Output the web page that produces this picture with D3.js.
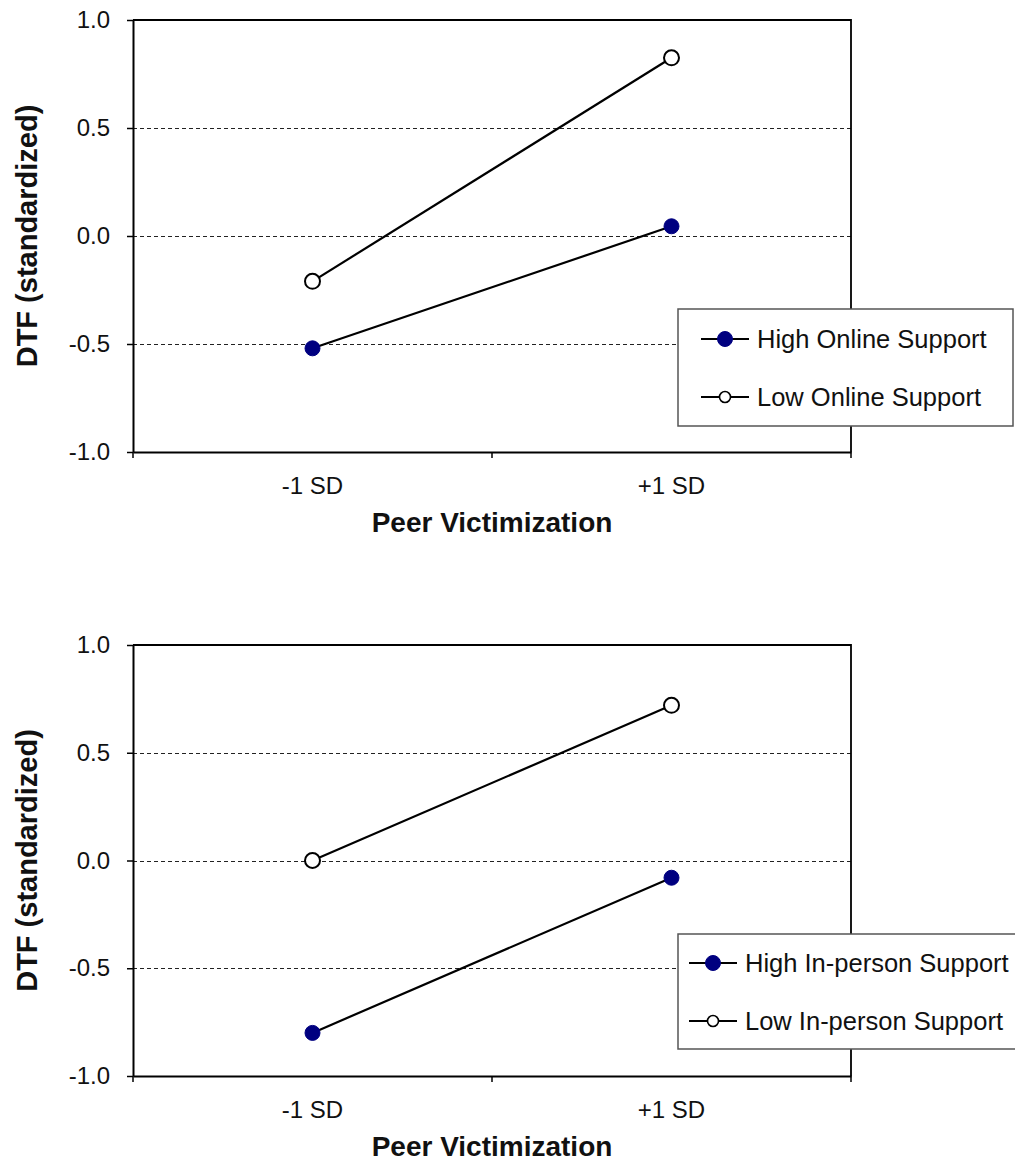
<!DOCTYPE html>
<html><head><meta charset="utf-8">
<script src="https://cdn.jsdelivr.net/npm/d3@7"></script>
<style>body{margin:0;background:#fff}svg{display:block}text{font-family:"Liberation Sans",Arial,sans-serif}</style>
</head><body>
<svg id="c" width="1015" height="1165"></svg>
<script>
const categories = ["-1 SD", "+1 SD"];
const yTicks = [-1.0, -0.5, 0.0, 0.5, 1.0];
const gridValues = [-0.5, 0.0, 0.5];
const topHigh = [-0.52, 0.045];
const topLow = [-0.21, 0.825];
const topLabels = ["High Online Support", "Low Online Support"];
const botHigh = [-0.80, -0.08];
const botLow = [0.0, 0.72];
const botLabels = ["High In-person Support", "Low In-person Support"];
const xTitle = "Peer Victimization";
const yTitle = "DTF (standardized)";

const svg = d3.select("#c");
const fmt = d => d3.format(".1f")(d).replace("\u2212","-");

function panel(cfg){
  const {left,right,top,bottom,high,low,labels,legend} = cfg;
  const g = svg.append("g");
  const x = d3.scaleBand().domain(categories).range([left,right]);
  const y = d3.scaleLinear().domain([-1,1]).range([bottom,top]);
  g.selectAll("line.grid").data(gridValues).join("line")
    .attr("x1",left).attr("x2",right).attr("y1",d=>Math.round(y(d))+0.5).attr("y2",d=>Math.round(y(d))+0.5)
    .attr("stroke","#222").attr("stroke-width",1.2).attr("stroke-dasharray","4,3");
  g.append("path").attr("d",`M${left},${top}H${right}V${bottom}`).attr("fill","none").attr("stroke","#000").attr("stroke-width",1.8);
  const ya = g.append("g").attr("transform",`translate(${left},0)`)
    .call(d3.axisLeft(y).tickValues(yTicks).tickFormat(fmt).tickSize(6).tickSizeOuter(0));
  ya.select(".domain").attr("stroke-width",2);
  ya.selectAll(".tick line").attr("stroke-width",1.5);
  ya.selectAll("text").attr("font-size",24).attr("fill","#111").attr("x",-23).attr("font-family","Liberation Sans, Arial, sans-serif");
  const xa = g.append("g").attr("transform",`translate(0,${bottom})`)
    .call(d3.axisBottom(x).tickSize(0).tickSizeOuter(0));
  xa.select(".domain").attr("stroke-width",2);
  xa.selectAll("text").attr("font-size",24).attr("fill","#111").attr("y",42).attr("dy",0).attr("font-family","Liberation Sans, Arial, sans-serif");
  const bounds = [left, (left+right)/2, right];
  g.selectAll("line.xt").data(bounds).join("line")
    .attr("x1",d=>d).attr("x2",d=>d).attr("y1",bottom).attr("y2",bottom+6).attr("stroke","#000").attr("stroke-width",1.5);
  g.append("text").attr("x",(left+right)/2).attr("y",bottom+80).attr("text-anchor","middle")
    .attr("font-size",28).attr("font-weight","bold").attr("fill","#111").text(xTitle);
  g.append("text").attr("transform",`translate(37,${(top+bottom)/2}) rotate(-90)`).attr("text-anchor","middle")
    .attr("font-size",29).attr("font-weight","bold").attr("fill","#111").text(yTitle);
  const cx = d => x(d)+x.bandwidth()/2;
  const line = d3.line().x((d,i)=>cx(categories[i])).y(d=>y(d));
  const series = [{v:low,fill:"#fff"},{v:high,fill:"#000080"}];
  series.forEach(s=>{
    g.append("path").attr("d",line(s.v)).attr("fill","none").attr("stroke","#000").attr("stroke-width",2.2);
  });
  series.forEach(s=>{
    g.selectAll(null).data(s.v).join("circle")
      .attr("cx",(d,i)=>cx(categories[i])).attr("cy",d=>y(d)).attr("r",7.5)
      .attr("fill",s.fill).attr("stroke",s.fill==="#fff"?"#000":"#000080").attr("stroke-width",s.fill==="#fff"?2:1);
  });
  const L = legend;
  g.append("rect").attr("x",L.x).attr("y",L.y).attr("width",L.w).attr("height",L.h)
    .attr("fill","#fff").attr("stroke","#555").attr("stroke-width",1.5);
  const items = [{t:labels[0],fill:"#000080"},{t:labels[1],fill:"#fff"}];
  items.forEach((it,i)=>{
    const yy = L.y + L.row0 + i*L.dy;
    g.append("line").attr("x1",L.lx).attr("x2",L.lx+48).attr("y1",yy).attr("y2",yy).attr("stroke","#000").attr("stroke-width",2);
    g.append("circle").attr("cx",L.lx+24).attr("cy",yy).attr("r",it.fill==="#fff"?5.5:7.5)
      .attr("fill",it.fill).attr("stroke",it.fill==="#fff"?"#000":"#000080").attr("stroke-width",it.fill==="#fff"?1.6:1);
    g.append("text").attr("x",L.lx+56).attr("y",yy).attr("dy","0.36em").attr("font-size",25.5).attr("fill","#111").text(it.t);
  });
}

panel({left:133,right:851,top:20,bottom:452,high:topHigh,low:topLow,labels:topLabels,
  legend:{x:678,y:309,w:335,h:117,row0:30,dy:58,lx:701}});
panel({left:133,right:851,top:645,bottom:1076,high:botHigh,low:botLow,labels:botLabels,
  legend:{x:678,y:934,w:345,h:115,row0:29,dy:58,lx:689}});
</script>
</body></html>
